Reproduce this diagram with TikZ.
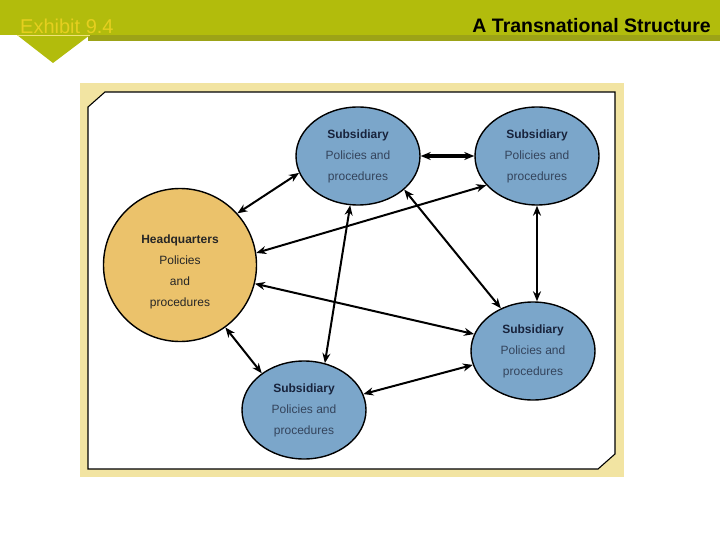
\documentclass[tikz,border=0pt]{standalone}
\usepackage{fontspec}
\setmainfont{Liberation Sans}
\usetikzlibrary{shapes.geometric,arrows.meta}
\definecolor{barolive}{HTML}{B2BC0C}
\definecolor{bardark}{HTML}{9CA317}
\definecolor{exhibityellow}{HTML}{E5CF1F}
\definecolor{panelyellow}{HTML}{F2E4A2}
\definecolor{subblue}{HTML}{7BA6CA}
\definecolor{hqorange}{HTML}{EBC26B}
\definecolor{subtext}{HTML}{34445C}
\definecolor{subdark}{HTML}{18233C}
\begin{document}
\begin{tikzpicture}[x=1pt,y=-1pt,
		sub/.style={ellipse,draw=black,line width=1.4pt,fill=subblue,minimum width=124pt,minimum height=98pt,inner sep=0pt,align=center,text=subtext,font=\fontsize{12}{21}\selectfont},
		hq/.style={circle,draw=black,line width=1.4pt,fill=hqorange,minimum size=153pt,inner sep=0pt,align=center,text=black!85,font=\fontsize{12}{21}\selectfont},
		link/.style={{Stealth[length=10pt,width=8pt]}-{Stealth[length=10pt,width=8pt]},line width=2pt}]
			\useasboundingbox (0,0) rectangle (720,540);
			\fill[white] (0,0) rectangle (720,540);
			\fill[barolive] (0,0) rectangle (720,35);
			\fill[bardark] (88,35) rectangle (720,41);
			\fill[barolive] (17,35) -- (90,35) -- (53,63) -- cycle;
			\draw[exhibityellow!60!white,line width=0.8pt] (17,35) -- (90,35);
			\node[anchor=base west,inner sep=0pt,text=exhibityellow,font=\fontsize{20}{22}\selectfont] (exhibit) at (20,34) {Exhibit 9.4};
			\node[anchor=base east,inner sep=0pt,font=\fontsize{19.5}{22}\selectfont\bfseries] (title) at (711,33) {A Transnational Structure};
			\fill[panelyellow] (80,83) rectangle (624,477);
			\draw[fill=white,line width=1.1pt] (88,107) -- (105,92) -- (615,92) -- (615,454) -- (598,469) -- (88,469) -- cycle;
			\node[hq] (hq) at (180,265) {\rule{0pt}{22pt}\textbf{Headquarters}\\Policies\\and\\procedures};
			\node[sub] (subtop) at (358,156) {\textcolor{subdark}{\textbf{Subsidiary}}\\Policies and\\procedures};
			\node[sub] (subright) at (537,156) {\textcolor{subdark}{\textbf{Subsidiary}}\\Policies and\\procedures};
			\node[sub] (submid) at (533,351) {\textcolor{subdark}{\textbf{Subsidiary}}\\Policies and\\procedures};
			\node[sub] (subbottom) at (304,410) {\textcolor{subdark}{\textbf{Subsidiary}}\\Policies and\\procedures};
			\draw[link] (hq.42) -- (subtop.196);
			\draw[link,line width=3.5pt] (subtop.east) -- (subright.west);
			\draw[link] (subright.210) -- (hq.9);
			\draw[link] (hq.346) -- (submid.164);
			\draw[link] (subtop.324) -- (submid.127);
			\draw[link] (subright.south) -- (subright.south |- submid.north);
			\draw[link] (subtop.261) -- (subbottom.66);
			\draw[link] (hq.306) -- (subbottom.139);
			\draw[link] (subbottom.15) -- (submid.193);
		\end{tikzpicture}
\end{document}
